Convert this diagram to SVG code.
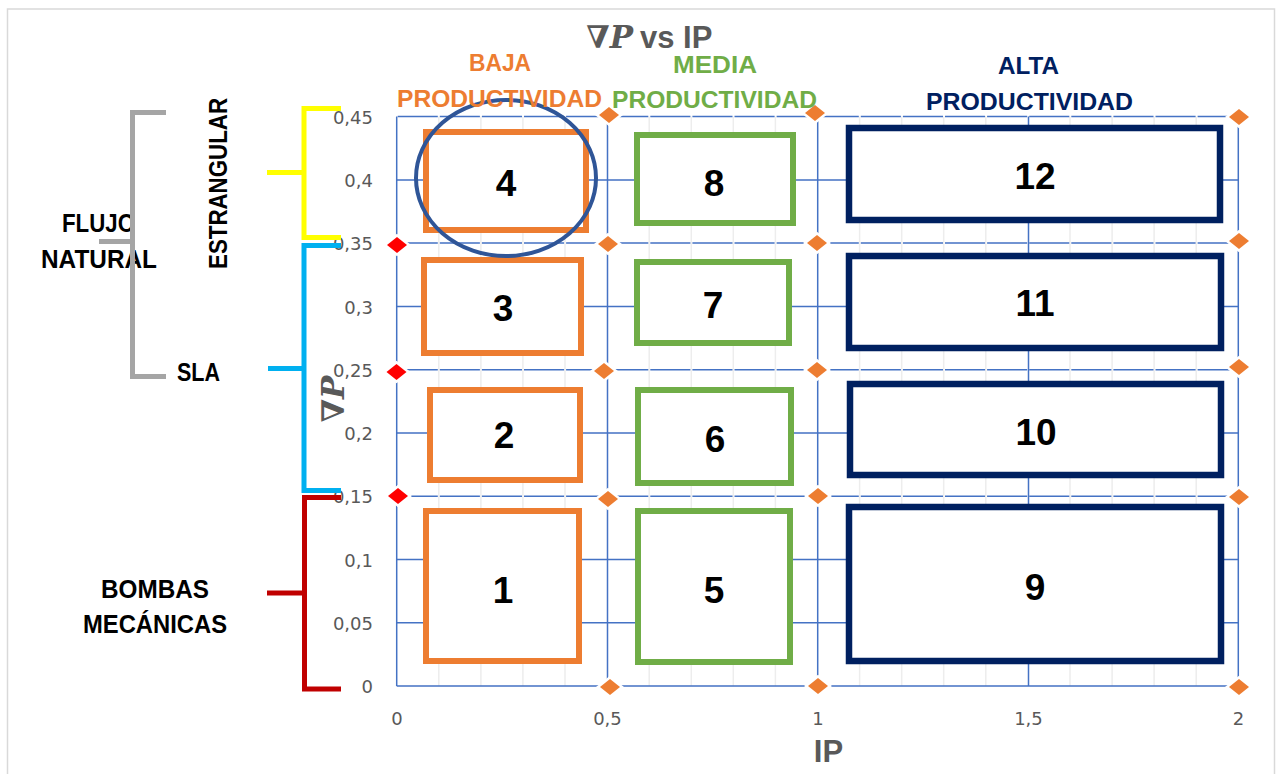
<svg xmlns="http://www.w3.org/2000/svg" width="1279" height="774" viewBox="0 0 1279 774">
<style>
.minor{stroke:#EDEDED;stroke-width:1.5;fill:none}
.major{stroke:#4472C4;stroke-width:1.5;fill:none}
.seg{stroke-dasharray:40.1 2;stroke-dashoffset:41.1}
.ob{fill:#fff;stroke:#ED7D31;stroke-width:6}
.gb{fill:#fff;stroke:#70AD47;stroke-width:6}
.nb{fill:#fff;stroke:#002060;stroke-width:6.5}
.num{font-family:"Liberation Sans",Arial,sans-serif;font-weight:bold;font-size:37px;fill:#000;text-anchor:middle}
.tick{font-family:"DejaVu Sans",sans-serif;font-size:18px;fill:#595959}
.ty{text-anchor:end}
.tx{text-anchor:middle}
.hdr{font-family:"Liberation Sans",Arial,sans-serif;font-weight:bold;font-size:24px;text-anchor:middle}
.lbl{font-family:"Liberation Sans",Arial,sans-serif;font-weight:bold;font-size:25px;fill:#000;text-anchor:middle}
.ttl{font-family:"Liberation Sans",Arial,sans-serif;font-weight:bold;font-size:31px;fill:#595959}
.math{font-family:"DejaVu Serif","Liberation Serif",serif;font-weight:bold;font-style:italic;font-size:31px;fill:#595959}
.dob{fill:#ED7D31;stroke:#fff;stroke-width:5;paint-order:stroke}
.drd{fill:#FF0000;stroke:#fff;stroke-width:5;paint-order:stroke}
.br{fill:none;stroke-width:5;stroke-linejoin:miter;stroke-linecap:butt}
</style>
<defs>
<path id="dia" d="M0,-8 L10,0 L0,8 L-10,0 Z"/>
</defs>
<rect x="7.5" y="9" width="1267" height="800" fill="#fff" stroke="#D9D9D9" stroke-width="1.5"/>

<g id="grid">
<path class="minor" d="M438.8,116.6V686 M480.9,116.6V686 M522.9,116.6V686 M565,116.6V686 M649.2,116.6V686 M691.3,116.6V686 M733.3,116.6V686 M775.4,116.6V686 M859.6,116.6V686 M901.7,116.6V686 M943.7,116.6V686 M985.8,116.6V686 M1070,116.6V686 M1112.1,116.6V686 M1154.1,116.6V686 M1196.2,116.6V686"/>
<path class="major" d="M396.7,116.6V686 M607.5,116.6V686 M817.7,116.6V686 M1028.5,116.6V686 M1238.3,116.6V686"/>
<path class="major" d="M396.7,180H1238.3 M396.7,306.4H1238.3 M396.7,433H1238.3 M396.7,559.5H1238.3 M396.7,622.7H1238.3 M396.7,686H1238.3"/>
<path class="major seg" d="M396.7,116.6H1238.3 M396.7,243.1H1238.3 M396.7,369.7H1238.3 M396.7,496.2H1238.3"/>
</g>

<g id="ticks">
<text class="tick ty" x="373" y="123.5">0,45</text>
<text class="tick ty" x="373" y="187">0,4</text>
<text class="tick ty" x="373" y="250">0,35</text>
<text class="tick ty" x="373" y="313.5">0,3</text>
<text class="tick ty" x="373" y="376.5">0,25</text>
<text class="tick ty" x="373" y="440">0,2</text>
<text class="tick ty" x="373" y="503">0,15</text>
<text class="tick ty" x="373" y="566.5">0,1</text>
<text class="tick ty" x="373" y="629.5">0,05</text>
<text class="tick ty" x="373" y="693">0</text>
<text class="tick tx" x="397" y="725">0</text>
<text class="tick tx" x="607.5" y="725">0,5</text>
<text class="tick tx" x="818" y="725">1</text>
<text class="tick tx" x="1028.5" y="725">1,5</text>
<text class="tick tx" x="1238.5" y="725">2</text>
</g>

<g id="markers">
<use href="#dia" class="dob" x="609" y="115"/>
<use href="#dia" class="dob" x="815" y="113"/>
<use href="#dia" class="dob" x="1239" y="117"/>
<use href="#dia" class="dob" x="608" y="244"/>
<use href="#dia" class="dob" x="817" y="243"/>
<use href="#dia" class="dob" x="1239" y="241"/>
<use href="#dia" class="dob" x="604" y="371"/>
<use href="#dia" class="dob" x="817" y="370"/>
<use href="#dia" class="dob" x="1239" y="367"/>
<use href="#dia" class="dob" x="608" y="499"/>
<use href="#dia" class="dob" x="818" y="496"/>
<use href="#dia" class="dob" x="1239" y="497"/>
<use href="#dia" class="dob" x="610" y="687"/>
<use href="#dia" class="dob" x="818" y="686"/>
<use href="#dia" class="dob" x="1239" y="687"/>
<use href="#dia" class="drd" x="397" y="245"/>
<use href="#dia" class="drd" x="396.5" y="372"/>
<use href="#dia" class="drd" x="398" y="496"/>
</g>

<g id="box1"><rect class="ob" x="426" y="511" width="153" height="150"/><text class="num" x="503" y="603">1</text></g>
<g id="box2"><rect class="ob" x="430" y="390" width="150" height="90"/><text class="num" x="504" y="448">2</text></g>
<g id="box3"><rect class="ob" x="424" y="260" width="157" height="93"/><text class="num" x="503" y="321">3</text></g>
<g id="box4"><rect class="ob" x="426" y="132" width="160" height="98"/><text class="num" x="506" y="196">4</text></g>
<g id="box5"><rect class="gb" x="638" y="511" width="152" height="151"/><text class="num" x="714" y="603">5</text></g>
<g id="box6"><rect class="gb" x="638" y="390" width="153" height="93"/><text class="num" x="715" y="452">6</text></g>
<g id="box7"><rect class="gb" x="637" y="262" width="152" height="81"/><text class="num" x="713" y="318">7</text></g>
<g id="box8"><rect class="gb" x="637" y="135" width="156" height="88"/><text class="num" x="714" y="196">8</text></g>
<g id="box9"><rect class="nb" x="849" y="507" width="372" height="154"/><text class="num" x="1035" y="600">9</text></g>
<g id="box10"><rect class="nb" x="850" y="384" width="371" height="91"/><text class="num" x="1036" y="445">10</text></g>
<g id="box11"><rect class="nb" x="849" y="256" width="372" height="92"/><text class="num" x="1035" y="316">11</text></g>
<g id="box12"><rect class="nb" x="849" y="128" width="371" height="92"/><text class="num" x="1035" y="189">12</text></g>

<g id="highlight">
<ellipse cx="506" cy="178" rx="90" ry="78" fill="none" stroke="#2F5597" stroke-width="4"/>
</g>

<g id="headers">
<text class="hdr" fill="#ED7D31" x="500" y="71" textLength="62" lengthAdjust="spacingAndGlyphs">BAJA</text>
<text class="hdr" fill="#ED7D31" x="499.5" y="107" textLength="205" lengthAdjust="spacingAndGlyphs">PRODUCTIVIDAD</text>
<text class="hdr" fill="#70AD47" x="715" y="72.5" textLength="84" lengthAdjust="spacingAndGlyphs">MEDIA</text>
<text class="hdr" fill="#70AD47" x="714.5" y="108" textLength="205" lengthAdjust="spacingAndGlyphs">PRODUCTIVIDAD</text>
<text class="hdr" fill="#002060" x="1028.5" y="74" textLength="61" lengthAdjust="spacingAndGlyphs">ALTA</text>
<text class="hdr" fill="#002060" x="1029.5" y="110" textLength="207" lengthAdjust="spacingAndGlyphs">PRODUCTIVIDAD</text>
</g>

<g id="title">
<text class="math" x="633" y="48" text-anchor="end">∇P</text>
<text class="ttl" x="640" y="48">vs IP</text>
</g>
<g id="axis-titles">
<text class="ttl" x="828.5" y="762" text-anchor="middle">IP</text>
<text class="math" transform="translate(344,399) rotate(-90)" text-anchor="middle">∇P</text>
</g>

<g id="labels">
<text class="lbl" x="98.5" y="232" textLength="73" lengthAdjust="spacingAndGlyphs">FLUJO</text>
<text class="lbl" x="99" y="268" textLength="116" lengthAdjust="spacingAndGlyphs">NATURAL</text>
<text class="lbl" transform="translate(227,183.5) rotate(-90)" textLength="171" lengthAdjust="spacingAndGlyphs">ESTRANGULAR</text>
<text class="lbl" x="198.5" y="381" textLength="43" lengthAdjust="spacingAndGlyphs">SLA</text>
<text class="lbl" x="155" y="598" textLength="108" lengthAdjust="spacingAndGlyphs">BOMBAS</text>
<text class="lbl" x="155" y="633" textLength="144" lengthAdjust="spacingAndGlyphs">MECÁNICAS</text>
</g>

<g id="connectors">
<g id="bracket-flujo-natural" stroke="#A5A5A5" class="br">
<polyline points="166,112.5 132.5,112.5 132.5,376.5 166,376.5"/>
<line x1="99" y1="241.5" x2="132.5" y2="241.5"/>
</g>
<g id="bracket-estrangular" stroke="#FFFF00" class="br">
<polyline points="341,108.5 304,108.5 304,237.5 341,237.5"/>
<line x1="267" y1="172.5" x2="304" y2="172.5"/>
</g>
<g id="bracket-sla" stroke="#00B0F0" class="br">
<polyline points="341,245.5 304,245.5 304,490.5 341,490.5"/>
<line x1="268" y1="368.5" x2="304" y2="368.5"/>
</g>
<g id="bracket-bombas" stroke="#C00000" class="br">
<polyline points="341,497.5 304.5,497.5 304.5,689 341,689"/>
<line x1="267" y1="593" x2="304.5" y2="593"/>
</g>
</g>
</svg>
